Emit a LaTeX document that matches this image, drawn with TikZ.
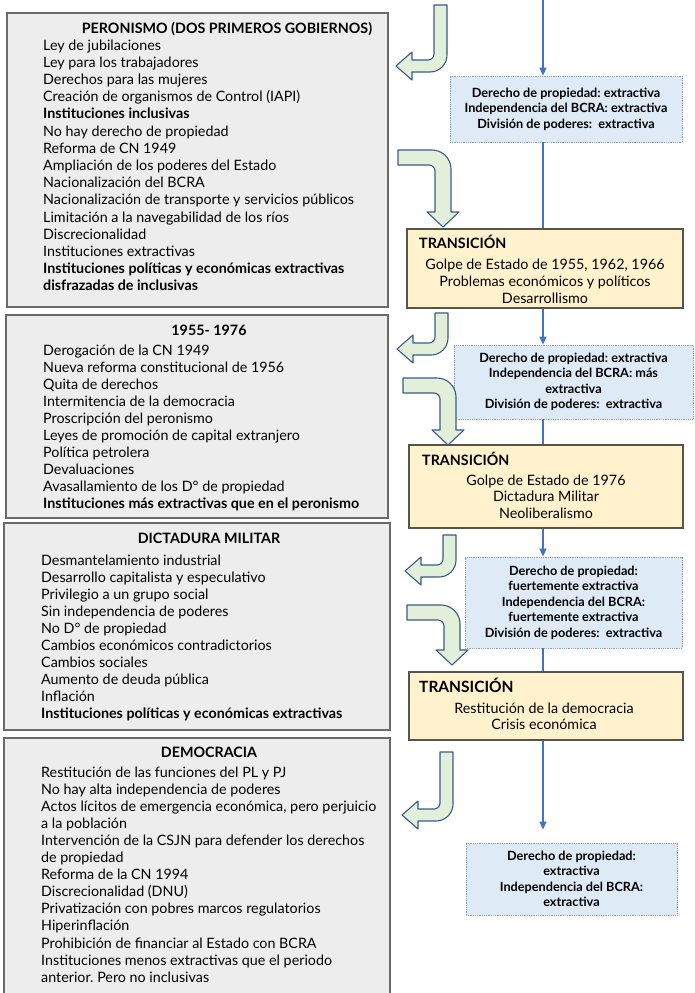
\documentclass[tikz,border=0pt]{standalone}
\usepackage{fontspec}
\setmainfont{Lato}
\frenchspacing
\usetikzlibrary{arrows.meta}
\definecolor{boxgray}{HTML}{EDEDED}
\definecolor{framegray}{HTML}{6A6A6A}
\definecolor{transfill}{HTML}{FFF2CC}
\definecolor{transline}{HTML}{555550}
\definecolor{rulefill}{HTML}{DEEAF6}
\definecolor{ruleline}{HTML}{8A9BB5}
\definecolor{flowblue}{HTML}{4472C4}
\definecolor{bendfill}{HTML}{E2EFD9}
\definecolor{bendline}{HTML}{3B5A8A}
\tikzset{
    periodbox/.style ={rectangle,draw=framegray,fill=boxgray,line width=1.2pt,inner sep=0pt},
    transbox/.style ={rectangle,draw=transline,fill=transfill,line width=1.1pt,inner sep=0pt},
    rulebox/.style ={rectangle,draw=ruleline,fill=rulefill,densely dotted,line width=0.8pt,inner sep=0pt,
        align=center,font=\bfseries\fontsize{12.7}{15.5}\selectfont},
    itemtext/.style ={anchor=base west,inner sep=0pt,font=\fontsize{14.3}{17}\selectfont},
    headtext/.style ={anchor=base,inner sep=0pt,font=\bfseries\fontsize{14.3}{17}\selectfont},
    linetext/.style ={anchor=base,inner sep=0pt,font=\fontsize{14.3}{17}\selectfont},
    flow/.style ={draw=flowblue,line width=1.3pt,-{Triangle[width=7pt,length=8pt]}},
    link/.style ={draw=flowblue,line width=1.3pt},
    uturn/.style ={fill=bendfill,draw=bendline,line width=1.1pt,line join=round},
    turnleft/.pic ={
        \filldraw[uturn] (0,0) -- (13,0) -- (13,#1-17) .. controls (13,#1-7.6) and (5.4,#1) .. (-4,#1)
            -- (-22,#1) -- (-22,#1+8) -- (-38,#1-6) -- (-22,#1-20) -- (-22,#1-12) -- (-6,#1-12)
            .. controls (-2.7,#1-12) and (0,#1-14.7) .. (0,#1-18) -- cycle;},
    turndown/.pic ={
        \filldraw[uturn] (0,0) -- (34,0) .. controls (44.5,0) and (53,8.5) .. (53,19) -- (53,#1)
            -- (61,#1) -- (45,#1+15) -- (29,#1) -- (37,#1) -- (37,21)
            .. controls (37,17.7) and (34.3,15) .. (31,15) -- (0,15) -- cycle;}}

\begin{document}
\begin{tikzpicture}[x=1pt,y=-1pt]
    \path[clip] (0,0) rectangle (694,993);
    \fill[white] (0,0) rectangle (694,993);

    % periodos
    \node[periodbox,minimum width=381pt,minimum height=294pt] (peron) at (197.5,160) {};
    \node[periodbox,minimum width=382pt,minimum height=203pt] (golpes) at (197,416.5) {};
    \node[periodbox,minimum width=386pt,minimum height=207pt] (dict) at (197,626.5) {};
    \node[periodbox,minimum width=386pt,minimum height=265pt] (democ) at (197,870.5) {};

    \node[headtext] (peron-t) at (227,33) {PERONISMO (DOS PRIMEROS GOBIERNOS)};
    \foreach \txt [count=\i] in {Ley de jubilaciones, Ley para los trabajadores, Derechos para las mujeres,
        Creación de organismos de Control (IAPI), \textbf{Instituciones inclusivas},
        No hay derecho de propiedad, Reforma de CN 1949, Ampliación de los poderes del Estado,
        Nacionalización del BCRA, Nacionalización de transporte y servicios públicos,
        Limitación a la navegabilidad de los ríos, Discrecionalidad, Instituciones extractivas,
        \textbf{Instituciones políticas y económicas extractivas}, \textbf{disfrazadas de inclusivas}}
        \node[itemtext] (peron-\i) at (43,{50+17.2*(\i-1)}) {\txt};

    \node[headtext] (golpes-t) at (209,335) {1955- 1976};
    \foreach \txt [count=\i] in {Derogación de la CN 1949, Nueva reforma constitucional de 1956,
        Quita de derechos, Intermitencia de la democracia, Proscripción del peronismo,
        Leyes de promoción de capital extranjero, Política petrolera, Devaluaciones,
        Avasallamiento de los D° de propiedad, \textbf{Instituciones más extractivas que en el peronismo}}
        \node[itemtext] (golpes-\i) at (43,{355+17*(\i-1)}) {\txt};

    \node[headtext] (dict-t) at (209,543) {DICTADURA MILITAR};
    \foreach \txt [count=\i] in {Desmantelamiento industrial, Desarrollo capitalista y especulativo,
        Privilegio a un grupo social, Sin independencia de poderes, No D° de propiedad,
        Cambios económicos contradictorios, Cambios sociales, Aumento de deuda pública, Inflación,
        \textbf{Instituciones políticas y económicas extractivas}}
        \node[itemtext] (dict-\i) at (41,{565+17*(\i-1)}) {\txt};

    \node[headtext] (democ-t) at (209,757) {DEMOCRACIA};
    \foreach \txt [count=\i] in {Restitución de las funciones del PL y PJ, No hay alta independencia de poderes,
        {Actos lícitos de emergencia económica, pero perjuicio}, a la población,
        Intervención de la CSJN para defender los derechos, de propiedad, Reforma de la CN 1994,
        Discrecionalidad (DNU), Privatización con pobres marcos regulatorios, Hiperinflación,
        Prohibición de financiar al Estado con BCRA, Instituciones menos extractivas que el periodo,
        anterior. Pero no inclusivas}
        \node[itemtext] (democ-\i) at (41,{777+17.1*(\i-1)}) {\txt};

    % transiciones
    \node[transbox,minimum width=276pt,minimum height=79pt] (trans1) at (545,268.5) {};
    \node[transbox,minimum width=274pt,minimum height=83pt] (trans2) at (546,486.5) {};
    \node[transbox,minimum width=274pt,minimum height=68pt] (trans3) at (546,706) {};
    \node[headtext,anchor=base west] (trans1-t) at (419,248) {TRANSICIÓN};
    \node[headtext,anchor=base west] (trans2-t) at (422,465) {TRANSICIÓN};
    \node[headtext,anchor=base west,font=\bfseries\fontsize{15.5}{17}\selectfont] (trans3-t) at (419,692) {TRANSICIÓN};
    \foreach \txt [count=\i] in {{Golpe de Estado de 1955, 1962, 1966}, Problemas económicos y políticos, Desarrollismo}
        \node[linetext] (trans1-\i) at (545,{269+17*(\i-1)}) {\txt};
    \foreach \txt [count=\i] in {Golpe de Estado de 1976, Dictadura Militar, Neoliberalismo}
        \node[linetext] (trans2-\i) at (546,{485+16.5*(\i-1)}) {\txt};
    \foreach \txt [count=\i] in {Restitución de la democracia, Crisis económica}
        \node[linetext] (trans3-\i) at (544,{713+16.5*(\i-1)}) {\txt};

    % instituciones
    \node[rulebox,minimum width=232pt,minimum height=66pt] (rule1) at (566,109)
        {Derecho de propiedad: extractiva\\Independencia del BCRA: extractiva\\División de poderes: \ extractiva};
    \node[rulebox,minimum width=239pt,minimum height=74pt] (rule2) at (573.5,382)
        {Derecho de propiedad: extractiva\\Independencia del BCRA: más\\extractiva\\División de poderes: \ extractiva};
    \node[rulebox,minimum width=217pt,minimum height=91pt] (rule3) at (573.5,602.5)
        {Derecho de propiedad:\\fuertemente extractiva\\Independencia del BCRA:\\fuertemente extractiva\\División de poderes: \ extractiva};
    \node[rulebox,minimum width=211pt,minimum height=72pt] (rule4) at (571.5,879)
        {Derecho de propiedad:\\extractiva\\Independencia del BCRA:\\extractiva};

    % linea de tiempo
    \coordinate (spine) at (543,0);
    \draw[flow] (spine) -- (spine |- rule1.north);
    \draw[link] (rule1.south -| spine) -- (spine |- trans1.north);
    \draw[flow] (trans1.south -| spine) -- (spine |- rule2.north);
    \draw[link] (rule2.south -| spine) -- (spine |- trans2.north);
    \draw[flow] (trans2.south -| spine) -- (spine |- rule3.north);
    \draw[link] (rule3.south -| spine) -- (spine |- trans3.north);
    \draw[flow,shorten >=13pt] (trans3.south -| spine) -- (spine |- rule4.north);

    % flechas curvas
    \pic (back1) at (434,5) {turnleft=67};
    \pic (next1) at (398,150) {turndown=62};
    \pic (back2) at (435,313) {turnleft=42};
    \pic (next2) at (403,378) {turndown=52};
    \pic (back3) at (443,535) {turnleft=42};
    \pic (next3) at (407,605) {turndown=45};
    \pic (back4) at (440,752) {turnleft=69};
\end{tikzpicture}
\end{document}
